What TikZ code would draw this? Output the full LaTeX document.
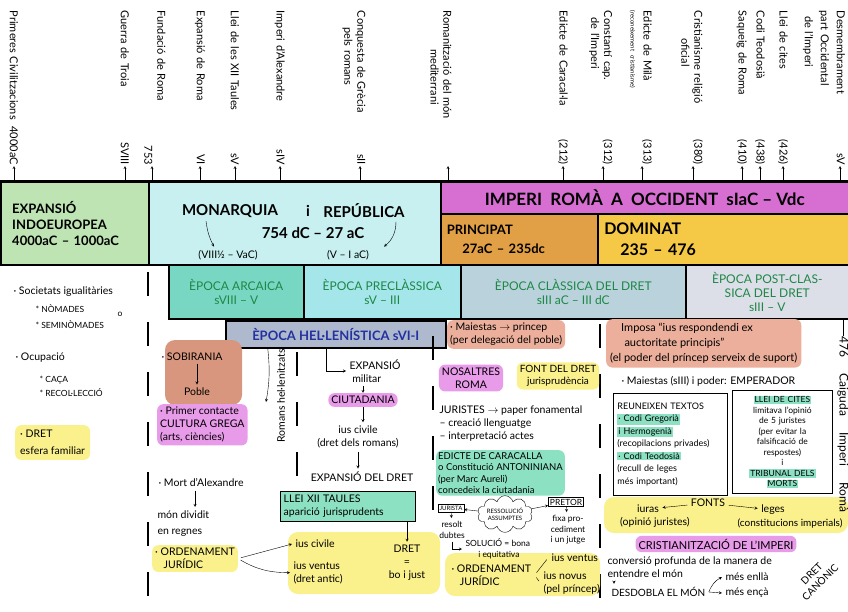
\documentclass[tikz,border=0pt]{standalone}
\usepackage{fontspec}
\setmainfont{Lato}
\usetikzlibrary{shapes.symbols}
\newcommand\hlt[2]{{\setlength\fboxsep{1pt}\colorbox{#1}{#2}}}

\begin{document}
\begin{tikzpicture}[x=1pt, y=-1pt, >=stealth, font=\fontsize{10.5}{13}\selectfont,
  ev/.style={rotate=-90, anchor=east, text width=154pt, align=left, inner sep=1pt, font=\fontsize{11}{13}\selectfont},
  band/.style={draw, line width=1.5pt, anchor=north west, inner sep=0pt},
  title/.style={font=\bfseries\fontsize{15}{18}\selectfont},
  epoca/.style={band, minimum height=54pt, text=cEpT, align=center, font=\fontsize{12}{14}\selectfont},
  hl/.style={fill=#1, rounded corners=6pt, inner sep=3pt},
  sep/.style={line width=2.2pt, dash pattern=on 24pt off 26pt},
  sm/.style={font=\fontsize{8.5}{10.5}\selectfont},
  tn/.style={font=\fontsize{6}{7}\selectfont}]
	\definecolor{cExp}{RGB}{190,228,180}
	\definecolor{cMon}{RGB}{200,240,240}
	\definecolor{cImp}{RGB}{215,110,210}
	\definecolor{cPri}{RGB}{225,160,70}
	\definecolor{cDom}{RGB}{245,200,70}
	\definecolor{cArc}{RGB}{120,215,195}
	\definecolor{cPre}{RGB}{165,230,235}
	\definecolor{cCla}{RGB}{185,210,220}
	\definecolor{cPos}{RGB}{220,222,232}
	\definecolor{cHel}{RGB}{175,185,205}
	\definecolor{cHelT}{RGB}{35,50,160}
	\definecolor{cEpT}{RGB}{30,135,70}
	\definecolor{cSal}{RGB}{235,175,155}
	\definecolor{cBrown}{RGB}{215,150,125}
	\definecolor{cMag}{RGB}{232,155,232}
	\definecolor{cYel}{RGB}{250,240,140}
	\definecolor{cTeal}{RGB}{140,225,195}
	\useasboundingbox (0,0) rectangle (848,611);

	\foreach \xa/\xn/\txt [count=\i] in {
	  14/14/{Primeres Civilitzacions \hfill 4000aC},
	  125/125/{Guerra de Troia \hfill SVIII},
	  152/155/{Fundació de Roma\\ \hspace*{\fill}753},
	  200/200/{Expansió de Roma \hfill VI},
	  235/235/{Llei de les XII Taules \hfill sV},
	  280/280/{Imperi d'Alexandre \hfill sIV},
	  360/354/{Conquesta de Grècia \hfill sII\\ \hspace*{1.5em}pels romans},
	  448/441/{Romanització del món\\ \hspace*{3.5em}mediterrani},
	  563/563/{Edicte de Caracal·la \hfill (212)},
	  603/601/{Constantí cap. \hfill (312)\\ \hspace*{0.6em}de l'Imperi},
	  642/641/{Edicte de Milà \hfill (313)\\ {\fontsize{6}{7}\selectfont (reconeixement cristianisme)}},
	  693/692/{Cristianisme religió \hfill (380)\\ \hspace*{2.5em}oficial},
	  742/742/{Saqueig de Roma \hfill (410)},
	  760/760/{Codi Teodosià \hfill (438)},
	  783/783/{Llei de cites \hfill (426)},
	  840/824/{Desmembrament \hfill sV\\[3pt] part Occidental\\[3pt] \hspace*{0.5em}de l'Imperi}}
	{
	  \coordinate (t\i) at (\xa,181);
	  \node[ev] (e\i) at (\xn,166) {\txt};
	  \draw[->] (t\i) -- (t\i |- e\i.east);
	}

	\node[band, fill=cExp, minimum width=148pt, minimum height=83pt, align=left, text width=125pt, font=\bfseries\fontsize{13}{16}\selectfont] (expansio) at (0,181) {EXPANSIÓ\\INDOEUROPEA\\4000aC – 1000aC};
	\node[band, fill=cMon, minimum width=292pt, minimum height=83pt] (monarq) at (148,181) {};
	\node[band, fill=cImp, minimum width=408pt, minimum height=32pt, font=\bfseries\fontsize{17}{19}\selectfont] (imperi) at (440,181) {IMPERI\ \ ROMÀ\ \ A\ \ OCCIDENT\ \ sIaC – Vdc};
	\node[band, fill=cPri, minimum width=157pt, minimum height=51pt, align=left, text width=145pt, font=\bfseries\fontsize{13}{19}\selectfont] (princ) at (440,213) {PRINCIPAT\\\hspace*{1.2em}27aC – 235dc};
	\node[band, fill=cDom, minimum width=251pt, minimum height=51pt, align=left, text width=238pt, font=\bfseries\fontsize{16}{21}\selectfont] (domin) at (597,213) {DOMINAT\\\hspace*{1em}235 – 476};
	\draw[line width=2.2pt] (0,181) -- (848,181);

	\node[title] (mon) at (230,211) {MONARQUIA};
	\node[title] (ii) at (308,211) {i};
	\node[title] (rep) at (364,211) {REPÚBLICA};
	\node[title] (dates) at (313,233) {754 dC – 27 aC};
	\node (viii) at (228,255) {(VIII½ – VaC)};
	\node (vi) at (348,255) {(V – I aC)};
	\draw[->] ([xshift=-24pt]mon.south) to[bend right=10] ([xshift=-14pt]viii.north);
	\draw[->] ([xshift=32pt]rep.south) to[bend left=25] ([xshift=36pt]vi.north);

	\node[epoca, fill=cArc, minimum width=135pt] (arcaica) at (168,264) {ÈPOCA ARCAICA\\sVIII – V};
	\node[epoca, fill=cPre, minimum width=157pt] (precl) at (303,264) {ÈPOCA PRECLÀSSICA\\sV – III};
	\node[epoca, fill=cCla, minimum width=225pt] (classica) at (460,264) {ÈPOCA CLÀSSICA DEL DRET\\sIII aC – III dC};
	\node[epoca, fill=cPos, minimum width=163pt] (postc) at (685,264) {ÈPOCA POST-CLAS-\\SICA DEL DRET\\sIII – V};
	\node[band, fill=cHel, minimum width=220pt, minimum height=27pt, text=cHelT, font=\bfseries\fontsize{13}{15}\selectfont] (helen) at (225,320) {ÈPOCA HEL·LENÍSTICA sVI-I};

	\draw[sep] (148,272) -- (148,602);
	\draw[sep] (297,352) -- (297,482);
	\draw[sep] (433,336) -- (433,592);
	\draw[sep] (600,324) -- (600,602);
	\fill[cBrown, rounded corners=10pt] (165,340) rectangle (242,405);
	\fill[cYel, rounded corners=10pt] (288,532) rectangle (440,594);
	\fill[cYel, rounded corners=10pt] (445,553) rectangle (600,596);
	\fill[cYel, rounded corners=10pt] (604,497) rectangle (848,533);

	\node[anchor=west] (soc) at (10,292) {· Societats igualitàries};
	\node[anchor=west, sm] (nom) at (32,309) {* NÒMADES};
	\node[sm] (o) at (120,314) {o};
	\node[anchor=west, sm] (semi) at (32,325) {* SEMINÒMADES};
	\node[anchor=west] (ocu) at (12,358) {· Ocupació};
	\node[anchor=west, sm] (caca) at (36,380) {* CAÇA};
	\node[anchor=west, sm] (recol) at (36,393) {* RECOL·LECCIÓ};
	\node[hl=cYel, anchor=north west, align=left, inner sep=5pt] (dretf) at (15,425) {· DRET\\[4pt]esfera familiar};

	\node[anchor=west] (sob) at (158,357) {· SOBIRANIA};
	\node (poble) at (197,392) {Poble};
	\draw[->] (poble |- sob.south) -- (poble.north);
	\node[hl=cMag, anchor=north west, align=left] (grega) at (157,404) {· Primer contacte\\CULTURA GREGA\\(arts, ciències)};
	\node[rotate=90] (romans) at (281,396) {Romans hel·lenitzats};
	\coordinate (rh) at (266,402);
	\draw[->] ([xshift=-68pt]helen.south) to[bend left=8] (rh);
	\node[anchor=west] (alex) at (155,483) {· Mort d'Alexandre};
	\node[anchor=north west, align=left] (regnes) at (154,507) {món dividit\\[3pt]en regnes};
	\draw[->] ([xshift=-6pt]alex.south) -- ([xshift=-6pt]alex.south |- regnes.north);
	\node[hl=cYel, anchor=north west, align=left] (ord1) at (152,545) {· ORDENAMENT\\\hspace*{0.8em}JURÍDIC};

	\node[align=left] (exp) at (375,371) {EXPANSIÓ\\\ militar};
	\draw[->] ([xshift=-10pt]helen.south) |- (exp.west);
	\node[hl=cMag] (ciut) at (363,400) {CIUTADANIA};
	\draw[->] (ciut |- exp.south) -- (ciut.north);
	\node[align=center] (iusc) at (358,437) {ius civile\\(dret dels romans)};
	\draw[->] (ciut.south) -- (ciut.south |- iusc.north);
	\node (expd) at (362,477) {EXPANSIÓ DEL DRET};
	\draw[->] (iusc.south) -- (iusc.south |- expd.north);
	\node[draw, thick, fill=cTeal, anchor=north west, text width=128pt, align=left, minimum height=30pt] (llei) at (280,491) {LLEI XII TAULES\\aparició jurisprudents};
	\node[anchor=west] (iuscv) at (292,544) {ius civile};
	\node[anchor=north west, align=left] (iusv) at (290,558) {ius ventus\\(dret antic)};
	\node[align=center] (dret2) at (407,563) {DRET\\=\\bo i just};
	\draw[->] (llei.south -| dret2) -- (dret2.north);
	\draw[->, shorten <=3pt] (ord1.east) -- (iuscv.west);
	\draw[->, shorten <=3pt] (ord1.east) to[bend right=15] (iusv.west);

	\node[hl=cSal, anchor=north west, align=left] (maies) at (447,320) {· Maiestas $\rightarrow$ princep\\(per delegació del poble)};
	\node[hl=cMag, align=center] (nos) at (471,378) {NOSALTRES\\ROMA};
	\node[hl=cYel, align=center, font=\fontsize{10}{12}\selectfont] (font) at (558,376) {FONT DEL DRET\\jurisprudència};
	\node[anchor=north west, align=left] (jur) at (436,402) {JURISTES $\rightarrow$ paper fonamental\\– creació llenguatge\\– interpretació actes};
	\node[hl=cTeal, anchor=north west, align=left, inner sep=2pt, font=\fontsize{9.5}{11.5}\selectfont] (edict) at (436,450) {EDICTE DE CARACALLA\\o Constitució ANTONINIANA\\(per Marc Aureli)\\concedeix la ciutadania};
	\node[draw, tn, inner sep=1.5pt] (jurista) at (451,508) {JURISTA};
	\node[cloud, draw, cloud puffs=10, aspect=2, inner sep=0pt, tn, align=center] (resol) at (505,514) {RESSOLUCIÓ\\ASSUMPTES};
	\node[draw, sm, inner sep=1.5pt] (pretor) at (566,502) {PRETOR};
	\draw[->] (resol) -- (jurista);
	\draw[->] (resol) -- (pretor);
	\node[align=center, sm] (dubtes) at (452,530) {resolt\\dubtes};
	\draw[->] (jurista) -- (dubtes);
	\node[align=center, sm] (fixa) at (568,530) {fixa pro-\\cediment\\i un jutge};
	\draw[->] (pretor) -- (fixa);
	\node[anchor=west, align=left, sm] (sol) at (462,549) {SOLUCIÓ = bona\\\hspace*{1.5em}i equitativa};
	\draw[->] (dubtes.south) |- (sol.west);
	\node[anchor=west, align=left] (ord2) at (448,575) {· ORDENAMENT\\\hspace*{0.8em}JURÍDIC};
	\node[anchor=west] (ivent) at (548,558) {ius ventus};
	\node[anchor=north west, align=left] (inov) at (540,568) {ius novus\\(pel príncep)};
	\draw[shorten <=3pt, shorten >=2pt] (ord2.east) -- (ivent.west);
	\draw[shorten <=3pt, shorten >=2pt] (ord2.east) -- (inov.west);

	\node[hl=cSal, anchor=north west, align=left, inner sep=4pt, font=\fontsize{11}{15}\selectfont] (imposa) at (606,319) {\hspace*{1em}Imposa “ius respondendi ex\\\hspace*{1.3em}auctoritate principis”\\(el poder del príncep serveix de suport)};
	\node[anchor=west] (maies2) at (618,381) {· Maiestas (sIII) i poder: EMPERADOR};
	\node[draw, thick, anchor=north west, text width=106pt, align=left, inner sep=4pt, minimum height=102pt, font=\fontsize{9}{12.5}\selectfont] (reun) at (613,393) {REUNEIXEN TEXTOS\\\hlt{cTeal}{· Codi Gregorià}\\\hlt{cTeal}{i Hermogenià}\\(recopilacions privades)\\\hlt{cTeal}{· Codi Teodosià}\\(recull de leges\\més important)};
	\node[draw, thick, anchor=north west, text width=92pt, align=center, inner sep=4pt, minimum height=103pt, font=\fontsize{8.5}{10.5}\selectfont] (cites) at (732,390) {\hlt{cTeal}{LLEI DE CITES}\\limitava l'opinió\\de 5 juristes\\(per evitar la\\falsificació de\\respostes)\\i\\\hlt{cTeal}{TRIBUNAL DELS}\\\hlt{cTeal}{MORTS}};
	\node (fonts) at (708,503) {FONTS};
	\node (iura) at (648,509) {iuras};
	\node (opin) at (655,522) {(opinió juristes)};
	\node (leges) at (773,510) {leges};
	\node[font=\fontsize{10}{12}\selectfont] (const) at (790,523) {(constitucions imperials)};
	\draw[->] (fonts) -- (iura);
	\draw[->] (fonts) -- (leges);
	\node[hl=cMag, font=\fontsize{11}{13}\selectfont] (crist) at (716,544) {CRISTIANITZACIÓ DE L'IMPERI};
	\node[anchor=north west, align=left] (conv) at (604,553) {conversió profunda de la manera de\\entendre el món};
	\node[anchor=west, font=\fontsize{10}{12}\selectfont] (desd) at (608,592) {DESDOBLA EL MÓN};
	\draw[->] ([xshift=10pt]conv.south west) -- ([xshift=10pt]conv.south west |- desd.north);
	\node[anchor=west] (enlla) at (722,577) {més enllà};
	\node[anchor=west] (enca) at (722,593) {més ençà};
	\draw[->] (desd.east) to[bend left=20] (enlla.west);
	\draw[->] (desd.east) -- (enca.west);
	\node[rotate=45, align=center, font=\fontsize{10}{12}\selectfont] (canon) at (816,578) {DRET\\CANÒNIC};

	\node[rotate=-90, anchor=west, text width=176pt, align=left, inner sep=0pt, font=\fontsize{12}{14}\selectfont] (caiguda) at (843,336) {476 \hfill Caiguda \hfill Imperi \hfill Romà};
	\draw (caiguda.west |- postc.south) -- (caiguda.west);
\end{tikzpicture}
\end{document}
